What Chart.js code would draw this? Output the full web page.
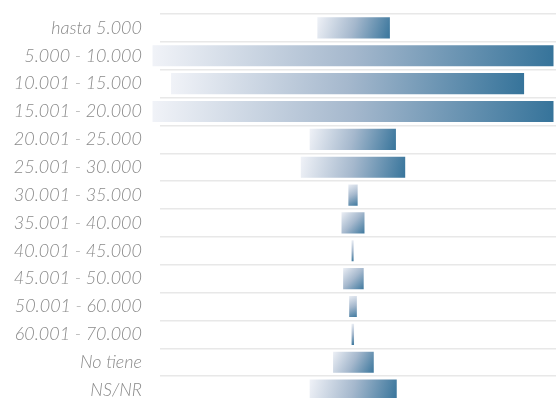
<!DOCTYPE html>
<html>
<head>
<meta charset="utf-8">
<script src="https://cdn.jsdelivr.net/npm/chart.js@4/dist/chart.umd.min.js"></script>
<style>
  html, body { margin: 0; padding: 0; background: #fff; overflow: hidden; }
  #wrap { width: 556px; height: 404px; position: relative; }
</style>
</head>
<body>
<div id="wrap"><canvas id="funnel"></canvas></div>
<script>
// categorias (ingreso mensual)
const categories = [
    'hasta 5.000', '5.000 - 10.000', '10.001 - 15.000', '15.001 - 20.000',
    '20.001 - 25.000', '25.001 - 30.000', '30.001 - 35.000', '35.001 - 40.000',
    '40.001 - 45.000', '45.001 - 50.000', '50.001 - 60.000', '60.001 - 70.000',
    'No tiene', 'NS/NR'
];

// inicio y fin de cada barra del embudo (0 - 100)
const barStart = [40.9, 0, 4.6, 0, 39.0, 36.8, 48.6, 46.9, 49.4, 47.3, 48.8, 49.4, 44.8, 39.0];
const barEnd   = [59.4, 100, 92.7, 100, 60.9, 63.2, 51.4, 53.1, 50.4, 52.9, 51.2, 50.5, 55.4, 61.1];

const ranges = barStart.map((s, i) => [s, barEnd[i]]);

const BAR_PCT = 0.83;

function barGradient(c) {
    const chart = c.chart;
    if (!chart.chartArea || !c.raw) return '#8fa8c2';
    const xs = chart.scales.x, ys = chart.scales.y;
    const x0 = xs.getPixelForValue(c.raw[0]);
    const x1 = xs.getPixelForValue(c.raw[1]);
    const yc = ys.getPixelForValue(c.dataIndex);
    const h = (chart.chartArea.height / categories.length) * BAR_PCT;
    const g = chart.ctx.createLinearGradient(x0, yc - h / 2, x1, yc + h / 2);
    g.addColorStop(0, '#f1f3f8');
    g.addColorStop(0.5, '#a5b8cd');
    g.addColorStop(1, '#35739a');
    return g;
}

new Chart(document.getElementById('funnel'), {
    type: 'bar',
    data: {
        labels: categories,
        datasets: [{
            data: ranges,
            backgroundColor: barGradient,
            borderColor: 'rgba(255,255,255,0.6)',
            borderWidth: 1,
            borderSkipped: false,
            barPercentage: BAR_PCT,
            categoryPercentage: 1,
            clip: false
        }]
    },
    options: {
        indexAxis: 'y',
        responsive: true,
        maintainAspectRatio: false,
        animation: false,
        layout: { padding: { top: 14, right: 0, bottom: 0, left: 0 } },
        plugins: { legend: { display: false }, tooltip: { enabled: false } },
        scales: {
            x: {
                display: false,
                min: 2.11,
                max: 100.37
            },
            y: {
                border: { display: false },
                grid: {
                    color: '#e8e8e8',
                    lineWidth: 1.5,
                    drawTicks: false,
                    offset: true
                },
                ticks: {
                    padding: 18,
                    color: '#8a8a8a',
                    font: { family: 'Lato', style: 'italic', weight: '300', size: 18 }
                },
                afterFit(scale) {
                    scale.width = 160;
                    scale.paddingTop = 0;
                    scale.paddingBottom = 0;
                }
            }
        }
    }
});
</script>
</body>
</html>
